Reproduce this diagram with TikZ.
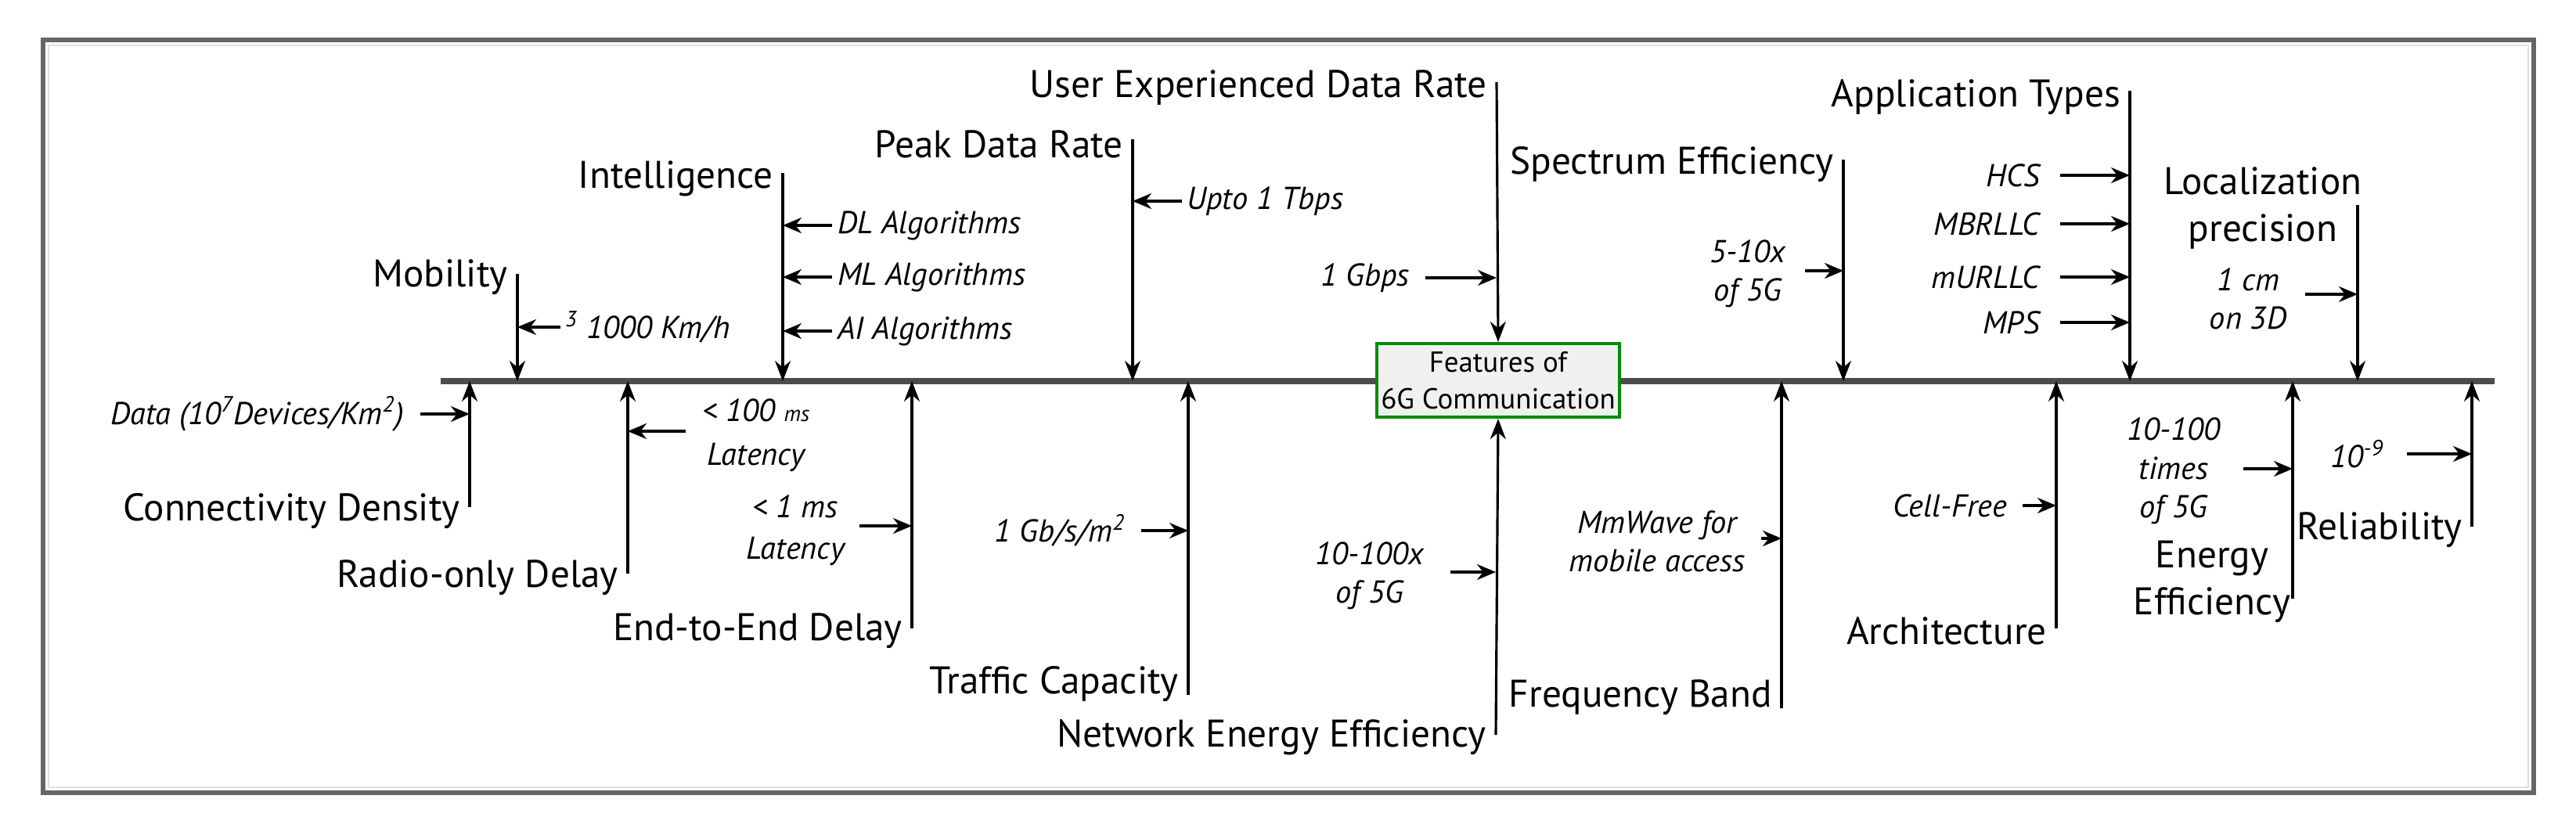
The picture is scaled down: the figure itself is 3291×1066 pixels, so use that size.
\documentclass[tikz,border=0pt]{standalone}
\usepackage{fontspec}
\setmainfont{PT Sans}
\usetikzlibrary{arrows.meta}
\begin{document}
\begin{tikzpicture}[x=0.01cm,y=-0.01cm,
  ln/.style={line width=0.9pt,-{Stealth[length=2.6mm,width=2mm]}},
  sd/.style={line width=0.9pt,-{Stealth[length=2.4mm,width=2mm]}},
  lab/.style={font=\fontsize{14}{16}\selectfont,inner sep=1pt},
  val/.style={font=\fontsize{11.5}{14}\selectfont\itshape,inner sep=1pt,align=center}]
\useasboundingbox (0,0) rectangle (3291,1066);
\draw[line width=1.6pt,gray!80!black] (55,51) rectangle (3237,1013);
\draw[line width=0.8pt,gray!25] (62,58) rectangle (3230,1006);
\coordinate (axL) at (563,487); \coordinate (axR) at (3187,487);
\draw[line width=2.2pt,black!70] (axL) -- (axR);
\node[draw=green!55!black,line width=1.2pt,fill=gray!12,minimum width=3.1cm,minimum height=0.94cm,inner sep=0pt,align=center,font=\fontsize{10.5}{13.5}\selectfont] (box) at (1914,486) {Features of\\6G Communication};
% ---- top features
\foreach \n/\x/\t/\ly/\txt in {mob/661/350/354/Mobility, intl/1000/221/228/Intelligence, peak/1447/178/184/Peak Data Rate, spec/2355/204/210/Spectrum Efficiency, app/2721/116/124/Application Types}{
  \coordinate (\n t) at (\x,\t); \coordinate (\n a) at (\x,487);
  \node[lab,anchor=east] (\n L) at (\x-8,\ly) {\txt};
  \draw[ln] (\n t) -- (\n a);}
\coordinate (uedt) at (1912,105);
\node[lab,anchor=east] (uedL) at (1904,112) {User Experienced Data Rate};
\draw[ln] (uedt) -- (box.north);
\coordinate (loct) at (3012,262); \coordinate (loca) at (3012,487);
\node[lab,align=center,font=\fontsize{14}{17}\selectfont] (locL) at (2891,266) {Localization\\precision};
\draw[ln] (loct) -- (loca);
% ---- bottom features
\foreach \n/\x/\b/\ly/\txt in {con/600/648/653/Connectivity Density, rad/802/733/738/Radio-only Delay, e2e/1165/803/806/End-to-End Delay, traf/1518/888/874/Traffic Capacity, freq/2276/905/891/Frequency Band, arch/2627/803/806/Architecture, rel/3158/673/677/Reliability}{
  \coordinate (\n b) at (\x,\b); \coordinate (\n a) at (\x,487);
  \node[lab,anchor=east] (\n L) at (\x-8,\ly) {\txt};
  \draw[ln] (\n b) -- (\n a);}
\coordinate (neeb) at (1911,939);
\node[lab,anchor=east] (neeL) at (1903,942) {Network Energy Efficiency};
\draw[ln] (neeb) -- (box.south);
\coordinate (eeb) at (2929,765); \coordinate (eea) at (2929,487);
\node[lab,align=center,font=\fontsize{14}{17}\selectfont] (eeL) at (2826,743) {Energy\\Efficiency};
\draw[ln] (eeb) -- (eea);
% ---- side values pointing left (top)
\coordinate (mobv) at (661,418); \coordinate (mobs) at (716,418);
\node[val,anchor=west] (mobT) at (718,418) {\textsuperscript{3}\ 1000 Km/h};
\draw[sd] (mobs) -- (mobv);
\foreach \n/\y/\txt in {dl/288/DL Algorithms, ml/354/ML Algorithms, ai/423/AI Algorithms}{
  \coordinate (\n v) at (1000,\y); \coordinate (\n s) at (1063,\y);
  \node[val,anchor=west] (\n T) at (1066,\y) {\txt};
  \draw[sd] (\n s) -- (\n v);}
\coordinate (upv) at (1447,257); \coordinate (ups) at (1510,257);
\node[val,anchor=west] (upT) at (1512,257) {Upto 1 Tbps};
\draw[sd] (ups) -- (upv);
% ---- side values pointing right (top)
\coordinate (gbs) at (1821,355); \coordinate (gbv) at (1912,355);
\node[val,anchor=east] (gbT) at (1805,355) {1 Gbps};
\draw[sd] (gbs) -- (gbv);
\coordinate (sps) at (2306,346); \coordinate (spv) at (2355,346);
\node[val] (spT) at (2233,350) {5-10x\\of 5G};
\draw[sd] (sps) -- (spv);
\foreach \n/\y/\txt in {hcs/224/HCS, mbr/286/MBRLLC, mur/354/mURLLC, mps/412/MPS}{
  \coordinate (\n s) at (2632,\y); \coordinate (\n v) at (2721,\y);
  \node[val,anchor=east] (\n T) at (2610,\y) {\txt};
  \draw[sd] (\n s) -- (\n v);}
\coordinate (lcs) at (2945,376); \coordinate (lcv) at (3012,376);
\node[val] (lcT) at (2872,382) {1 cm\\on 3D};
\draw[sd] (lcs) -- (lcv);
% ---- bottom side values
\coordinate (cds) at (537,529); \coordinate (cdv) at (600,529);
\node[val,anchor=east] (cdT) at (520,529) {Data (10\textsuperscript{7}Devices/Km\textsuperscript{2})};
\draw[sd] (cds) -- (cdv);
\coordinate (rds) at (876,551); \coordinate (rdv) at (802,551);
\node[val,font=\fontsize{11.5}{16}\selectfont\itshape] (rdT) at (966,556) {< 100 {\footnotesize ms}\\Latency};
\draw[sd] (rds) -- (rdv);
\coordinate (ees) at (1098,672); \coordinate (eev) at (1165,672);
\node[val,font=\fontsize{11.5}{15}\selectfont\itshape] (e2T) at (1016,678) {< 1 ms\\Latency};
\draw[sd] (ees) -- (eev);
\coordinate (tcs) at (1458,678); \coordinate (tcv) at (1518,678);
\node[val,anchor=east] (tcT) at (1442,678) {1 Gb/s/m\textsuperscript{2}};
\draw[sd] (tcs) -- (tcv);
\coordinate (nes) at (1853,731); \coordinate (nev) at (1911,731);
\node[val] (neT) at (1750,736) {10-100x\\of 5G};
\draw[sd] (nes) -- (nev);
\coordinate (fbs) at (2250,688); \coordinate (fbv) at (2276,688);
\node[val] (fbT) at (2117,692) {MmWave for\\mobile access};
\draw[sd] (fbs) -- (fbv);
\coordinate (cfs) at (2584,646); \coordinate (cfv) at (2627,646);
\node[val,anchor=east] (cfT) at (2568,646) {Cell-Free};
\draw[sd] (cfs) -- (cfv);
\coordinate (ens) at (2866,599); \coordinate (env) at (2929,599);
\node[val] (enT) at (2777,602) {10-100\\times\\of 5G};
\draw[sd] (ens) -- (env);
\coordinate (rls) at (3075,580); \coordinate (rlv) at (3158,580);
\node[val,anchor=east] (rlT) at (3050,580) {10\textsuperscript{-9}};
\draw[sd] (rls) -- (rlv);
\end{tikzpicture}
\end{document}
